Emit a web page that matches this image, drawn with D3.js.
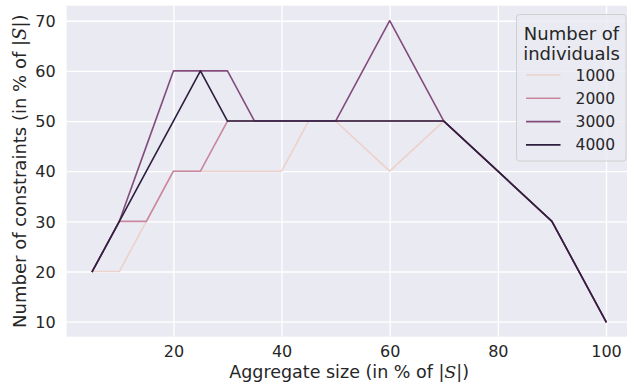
<!DOCTYPE html>
<html>
<head>
<meta charset="utf-8">
<script src="https://cdn.jsdelivr.net/npm/d3@7"></script>
<style>
  body { margin: 0; background: #fff; }
  svg { display: block; font-family: "DejaVu Sans", sans-serif; }
</style>
</head>
<body>
<svg id="chart" width="627" height="386"></svg>
<script>
// Data
let sizes = [5, 10, 15, 20, 25, 30, 35, 40, 45, 50, 60, 70, 80, 90, 100];
let groups = ["1000", "2000", "3000", "4000"];
let values1000 = [20, 20, 30, 40, 40, 40, 40, 40, 50, 50, 40, 50, 40, 30, 10];
let values2000 = [20, 30, 30, 40, 40, 50, 50, 50, 50, 50, 50, 50, 40, 30, 10];
let values3000 = [20, 30, 45, 60, 60, 60, 50, 50, 50, 50, 70, 50, 40, 30, 10];
let values4000 = [20, 30, 40, 50, 60, 50, 50, 50, 50, 50, 50, 50, 40, 30, 10];
let groupColours = ["#edd1cb", "#c8879e", "#834c7d", "#2d1e3e"];
let xTicks = [20, 40, 60, 80, 100];
let yTicks = [10, 20, 30, 40, 50, 60, 70];

let series = [values1000, values2000, values3000, values4000];

let svg = d3.select("#chart");
let plotLeft = 66.6, plotRight = 631.7, plotTop = 5.7, plotBottom = 336.7;
let textColour = "#262626";

let x = d3.scaleLinear().domain([0.25, 104.75]).range([plotLeft, plotRight]);
let y = d3.scaleLinear().domain([7, 73]).range([plotBottom, plotTop]);

// background
svg.append("rect")
    .attr("x", plotLeft).attr("y", plotTop)
    .attr("width", plotRight - plotLeft).attr("height", plotBottom - plotTop)
    .attr("fill", "#eaeaf2");

// grid via axes
let gx = svg.append("g")
    .attr("transform", "translate(0," + plotBottom + ")")
    .call(d3.axisBottom(x).tickValues(xTicks).tickSize(-(plotBottom - plotTop)).tickPadding(9));
let gy = svg.append("g")
    .attr("transform", "translate(" + plotLeft + ",0)")
    .call(d3.axisLeft(y).tickValues(yTicks).tickSize(-(plotRight - plotLeft)).tickPadding(11));

[gx, gy].forEach(function (g) {
    g.select(".domain").remove();
    g.selectAll(".tick line").attr("stroke", "#fff").attr("stroke-width", 1.3);
    g.selectAll(".tick text")
        .attr("fill", textColour)
        .style("font-size", "16px")
        .style("font-family", "DejaVu Sans, sans-serif");
});
gx.selectAll(".tick text").attr("dy", "0.71em");
gy.selectAll(".tick text").attr("dy", "0.36em");

// lines
let line = d3.line()
    .x(function (d, i) { return x(sizes[i]); })
    .y(function (d) { return y(d); });

svg.append("g").selectAll("path")
    .data(series)
    .enter()
    .append("path")
    .attr("d", line)
    .attr("fill", "none")
    .attr("stroke", function (d, i) { return groupColours[i]; })
    .attr("stroke-width", 1.6)
    .attr("stroke-linejoin", "round")
    .attr("stroke-linecap", "square");

// axis labels
let xl = svg.append("text")
    .attr("x", (plotLeft + plotRight) / 2).attr("y", 377.5)
    .attr("text-anchor", "middle")
    .attr("fill", textColour)
    .style("font-size", "17.5px");
xl.append("tspan").text("Aggregate size (in % of |");
xl.append("tspan").attr("font-style", "italic").attr("font-family", "DejaVu Serif, serif").text("S");
xl.append("tspan").text("|)");

let yl = svg.append("text")
    .attr("transform", "translate(26," + ((plotTop + plotBottom) / 2) + ") rotate(-90)")
    .attr("text-anchor", "middle")
    .attr("fill", textColour)
    .style("font-size", "18px");
yl.append("tspan").text("Number of constraints (in % of |");
yl.append("tspan").attr("font-style", "italic").attr("font-family", "DejaVu Serif, serif").text("S");
yl.append("tspan").text("|)");

// legend
let legend = svg.append("g");
legend.append("rect")
    .attr("x", 516.5).attr("y", 14.5)
    .attr("width", 109.5).attr("height", 146.5)
    .attr("rx", 3)
    .attr("fill", "#eaeaf2").attr("fill-opacity", 0.8)
    .attr("stroke", "#d0d0d0");

legend.selectAll("text.title")
    .data(["Number of", "individuals"])
    .enter()
    .append("text")
    .attr("class", "title")
    .attr("x", 571.5)
    .attr("y", function (d, i) { return 39.5 + i * 20.5; })
    .attr("text-anchor", "middle")
    .attr("fill", textColour)
    .style("font-size", "18px")
    .text(function (d) { return d; });

let entry = legend.selectAll("g.entry")
    .data(groups)
    .enter()
    .append("g")
    .attr("class", "entry")
    .attr("transform", function (d, i) { return "translate(0," + (75 + i * 23.3) + ")"; });

entry.append("line")
    .attr("x1", 526).attr("x2", 560.5)
    .attr("stroke", function (d, i) { return groupColours[i]; })
    .attr("stroke-width", 1.6);

entry.append("text")
    .attr("x", 615)
    .attr("dy", "0.36em")
    .attr("text-anchor", "end")
    .attr("fill", textColour)
    .style("font-size", "15.5px")
    .text(function (d) { return d; });
</script>
</body>
</html>
